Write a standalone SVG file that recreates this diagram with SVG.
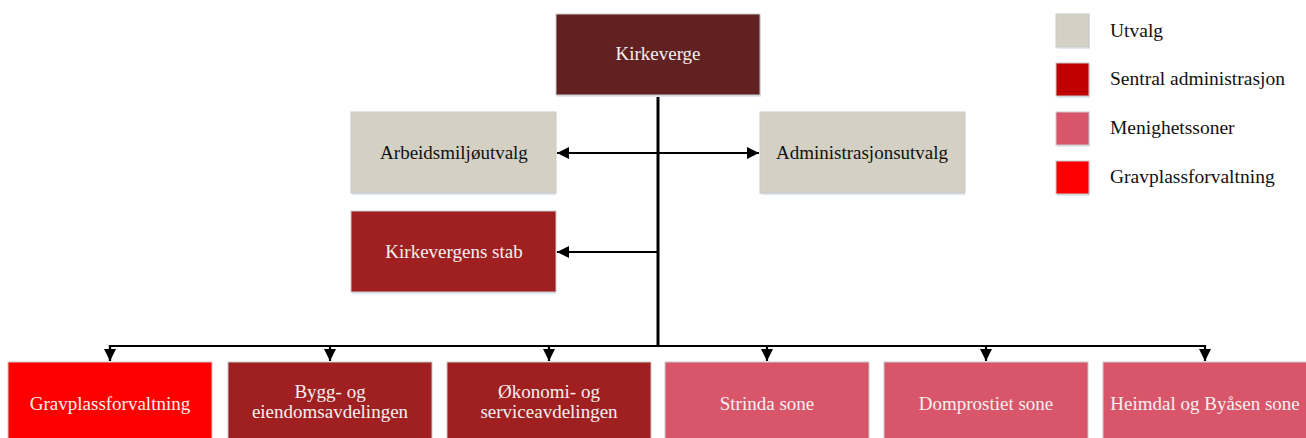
<svg xmlns="http://www.w3.org/2000/svg" width="1306" height="438" viewBox="0 0 1306 438">
<style>
.box{stroke:#c9c9c9;stroke-width:1}
.sh{fill:#dfe8f3}
.t{font-family:"Liberation Serif","DejaVu Serif",serif;font-size:19px;text-anchor:middle}
.w{fill:#f4f0f0}
.k{fill:#111111}
.lg{font-family:"Liberation Serif","DejaVu Serif",serif;font-size:19.5px;fill:#111111}
.ln{fill:none;stroke:#000;stroke-width:2.2}
.tr{fill:none;stroke:#000;stroke-width:3}
</style>
<defs>
<marker id="ah" viewBox="0 0 10 10" refX="10" refY="5" markerWidth="5.5" markerHeight="5.5" orient="auto-start-reverse" markerUnits="strokeWidth">
<path d="M0,0 L10,5 L0,10 Z" fill="#000"/>
</marker>
</defs>
<rect width="1306" height="438" fill="#ffffff"/>

<g id="connectors">
<line class="tr" x1="658" y1="95" x2="658" y2="347"/>
<line class="ln" x1="557" y1="153" x2="759" y2="153" marker-start="url(#ah)" marker-end="url(#ah)"/>
<line class="ln" x1="658" y1="252" x2="557" y2="252" marker-end="url(#ah)"/>
<polyline class="ln" points="110,361 110,346 1205,346 1205,361" marker-end="url(#ah)"/>
<line class="ln" x1="110" y1="346" x2="110" y2="361" marker-end="url(#ah)"/>
<line class="ln" x1="330" y1="346" x2="330" y2="361" marker-end="url(#ah)"/>
<line class="ln" x1="549" y1="346" x2="549" y2="361" marker-end="url(#ah)"/>
<line class="ln" x1="767" y1="346" x2="767" y2="361" marker-end="url(#ah)"/>
<line class="ln" x1="986" y1="346" x2="986" y2="361" marker-end="url(#ah)"/>
</g>

<g id="kirkeverge">
<rect class="sh" x="557" y="16" width="204" height="81"/>
<rect class="box" x="556" y="14" width="204" height="81" fill="#622121"/>
<text class="t w" x="658" y="60">Kirkeverge</text>
</g>
<g id="arbeidsmiljoutvalg">
<rect class="sh" x="352" y="114" width="204" height="81"/>
<rect class="box" x="351" y="112" width="205" height="81" fill="#d4d0c4" stroke="none"/>
<text class="t k" x="454" y="159">Arbeidsmiljøutvalg</text>
</g>
<g id="administrasjonsutvalg">
<rect class="sh" x="761" y="114" width="204" height="81"/>
<rect class="box" x="760" y="112" width="205" height="81" fill="#d4d0c4" stroke="none"/>
<text class="t k" x="862" y="159">Administrasjonsutvalg</text>
</g>
<g id="kirkevergens-stab">
<rect class="sh" x="352" y="213" width="204" height="81"/>
<rect class="box" x="351" y="211" width="205" height="81" fill="#a01f20"/>
<text class="t w" x="454" y="258">Kirkevergens stab</text>
</g>

<g id="gravplassforvaltning">
<rect class="box" x="8" y="362" width="204" height="84" fill="#ff0000"/>
<text class="t w" x="110" y="410">Gravplassforvaltning</text>
</g>
<g id="bygg">
<rect class="box" x="228" y="362" width="204" height="84" fill="#a01f20"/>
<text class="t w" x="330" y="398">Bygg- og</text>
<text class="t w" x="330" y="418">eiendomsavdelingen</text>
</g>
<g id="okonomi">
<rect class="box" x="447" y="362" width="204" height="84" fill="#a01f20"/>
<text class="t w" x="549" y="398">Økonomi- og</text>
<text class="t w" x="549" y="418">serviceavdelingen</text>
</g>
<g id="strinda">
<rect class="box" x="665" y="362" width="204" height="84" fill="#d9566a"/>
<text class="t w" x="767" y="410">Strinda sone</text>
</g>
<g id="domprostiet">
<rect class="box" x="884" y="362" width="204" height="84" fill="#d9566a"/>
<text class="t w" x="986" y="410">Domprostiet sone</text>
</g>
<g id="heimdal">
<rect class="box" x="1103" y="362" width="204" height="84" fill="#d9566a"/>
<text class="t w" x="1205" y="410">Heimdal og Byåsen sone</text>
</g>

<g id="legend">
<rect class="sh" x="1057" y="15" width="33" height="34"/>
<rect class="box" x="1056" y="14" width="33" height="33" fill="#d4d0c4"/>
<text class="lg" x="1110" y="37">Utvalg</text>
<rect class="sh" x="1057" y="64" width="33" height="34"/>
<rect class="box" x="1056" y="63" width="33" height="33" fill="#c00000"/>
<text class="lg" x="1110" y="85">Sentral administrasjon</text>
<rect class="sh" x="1057" y="113" width="33" height="34"/>
<rect class="box" x="1056" y="112" width="33" height="33" fill="#d9566a"/>
<text class="lg" x="1110" y="134">Menighetssoner</text>
<rect class="sh" x="1057" y="162" width="33" height="34"/>
<rect class="box" x="1056" y="161" width="33" height="33" fill="#ff0000"/>
<text class="lg" x="1110" y="183">Gravplassforvaltning</text>
</g>
</svg>
